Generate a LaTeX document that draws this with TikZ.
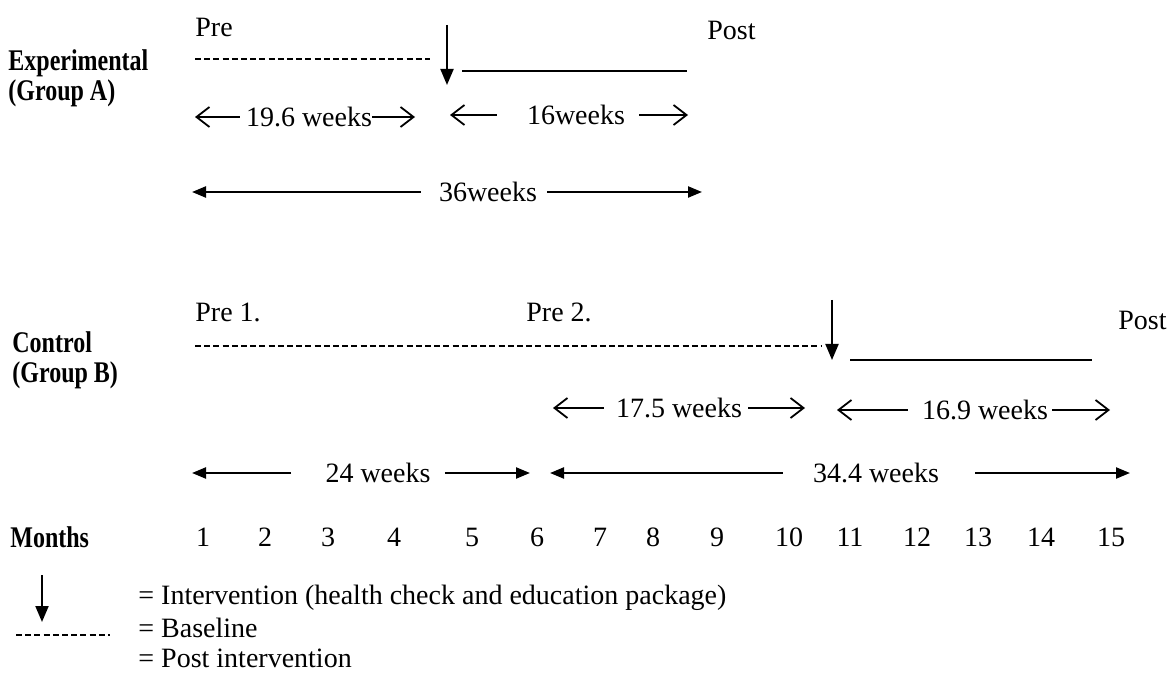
\documentclass[tikz,border=0pt]{standalone}
\usepackage{fontspec}
\setmainfont{Liberation Serif}
\usetikzlibrary{arrows.meta}

\tikzset{
  txt/.style={inner sep=0pt,font=\fontsize{14}{16}\selectfont},
  grp/.style={inner sep=0pt,anchor=west,align=left,font=\fontsize{15}{15}\selectfont\bfseries},
  baseline line/.style={line width=0.8pt,dash pattern=on 3pt off 1.6pt},
  post line/.style={line width=0.8pt},
  interv/.style={line width=1pt,-{Triangle[length=8pt,width=6.5pt]}},
  short span/.style={line width=0.9pt,-{Straight Barb[length=6.5pt,width=10pt]}},
  long span/.style={line width=1.1pt,-{Triangle[length=7pt,width=5.5pt]}}
}

\begin{document}
\begin{tikzpicture}[x=0.5pt,y=-0.5pt]
	\path[use as bounding box] (0,0) rectangle (1171,673);

	% experimental group
	\node[txt,anchor=west] (preA) at (195,27) {Pre};
	\node[txt,anchor=west] (postA) at (707,30) {Post};
	\node[grp] (grpA) at (8,78) {\scalebox{0.8}[1]{Experimental}\\\scalebox{0.8}[1]{(Group A)}};
	\coordinate (baseAl) at (195,59);
	\coordinate (baseAr) at (430,59);
	\draw[baseline line] (baseAl) -- (baseAr);
	\coordinate (intAt) at (447,25);
	\coordinate (intAb) at (447,85);
	\draw[interv] (intAt) -- (intAb);
	\coordinate (postAl) at (462,71);
	\coordinate (postAr) at (687,71);
	\draw[post line] (postAl) -- (postAr);

	\node[txt] (wA1) at (309,117) {19.6 weeks};
	\coordinate (wA1l) at (195,117);
	\coordinate (wA1r) at (415,117);
	\draw[short span,shorten <=3pt] (wA1) -- (wA1l);
	\draw[short span,shorten <=0pt] (wA1) -- (wA1r);

	\node[txt] (wA2) at (576,115) {16weeks};
	\coordinate (wA2l) at (450,115);
	\coordinate (wA2r) at (688,115);
	\draw[short span,shorten <=15pt] (wA2) -- (wA2l);
	\draw[short span,shorten <=7pt] (wA2) -- (wA2r);

	\node[txt] (wA3) at (488,192) {36weeks};
	\coordinate (wA3l) at (192,192);
	\coordinate (wA3r) at (702,192);
	\draw[long span,shorten <=9pt] (wA3) -- (wA3l);
	\draw[long span,shorten <=5pt] (wA3) -- (wA3r);

	% control group
	\node[txt,anchor=west] (preB1) at (195,312) {Pre 1.};
	\node[txt,anchor=west] (preB2) at (526,312) {Pre 2.};
	\node[txt,anchor=west] (postB) at (1118,320) {Post};
	\node[grp] (grpB) at (12,360) {\scalebox{0.8}[1]{Control}\\\scalebox{0.8}[1]{(Group B)}};
	\coordinate (baseBl) at (195,346);
	\coordinate (baseBr) at (822,346);
	\draw[baseline line] (baseBl) -- (baseBr);
	\coordinate (intBt) at (832,300);
	\coordinate (intBb) at (832,360);
	\draw[interv] (intBt) -- (intBb);
	\coordinate (postBl) at (850,360);
	\coordinate (postBr) at (1092,360);
	\draw[post line] (postBl) -- (postBr);

	\node[txt] (wB1) at (679,408) {17.5 weeks};
	\coordinate (wB1l) at (553,408);
	\coordinate (wB1r) at (805,408);
	\draw[short span,shorten <=6pt] (wB1) -- (wB1l);
	\draw[short span,shorten <=3pt] (wB1) -- (wB1r);

	\node[txt] (wB2) at (985,410) {16.9 weeks};
	\coordinate (wB2l) at (837,410);
	\coordinate (wB2r) at (1110,410);
	\draw[short span,shorten <=7pt] (wB2) -- (wB2l);
	\draw[short span,shorten <=2pt] (wB2) -- (wB2r);

	\node[txt] (wB3) at (378,473) {24 weeks};
	\coordinate (wB3l) at (192,473);
	\coordinate (wB3r) at (530,473);
	\draw[long span,shorten <=17pt] (wB3) -- (wB3l);
	\draw[long span,shorten <=7pt] (wB3) -- (wB3r);

	\node[txt] (wB4) at (876,473) {34.4 weeks};
	\coordinate (wB4l) at (550,473);
	\coordinate (wB4r) at (1130,473);
	\draw[long span,shorten <=15pt] (wB4) -- (wB4l);
	\draw[long span,shorten <=18pt] (wB4) -- (wB4r);

	% months axis
	\node[txt,anchor=west,font=\fontsize{15}{17}\selectfont\bfseries] (months) at (10,537) {\scalebox{0.8}[1]{Months}};
	\foreach \m/\x in {1/203,2/265,3/328,4/394,5/472,6/537,7/600,8/653,9/717,
	                   10/789,11/850,12/917,13/978,14/1041,15/1111}
		\node[txt] (m\m) at (\x,537) {\m};

	% legend
	\coordinate (legIt) at (42,575);
	\coordinate (legIb) at (42,622);
	\draw[interv] (legIt) -- (legIb);
	\coordinate (legBl) at (16,635);
	\coordinate (legBr) at (110,635);
	\draw[baseline line] (legBl) -- (legBr);
	\node[txt,anchor=west] (legI) at (138,598) {= Intervention (health check and education package)};
	\node[txt,anchor=west] (legB) at (138,628) {= Baseline};
	\node[txt,anchor=west] (legP) at (138,658) {= Post intervention};
\end{tikzpicture}
\end{document}
